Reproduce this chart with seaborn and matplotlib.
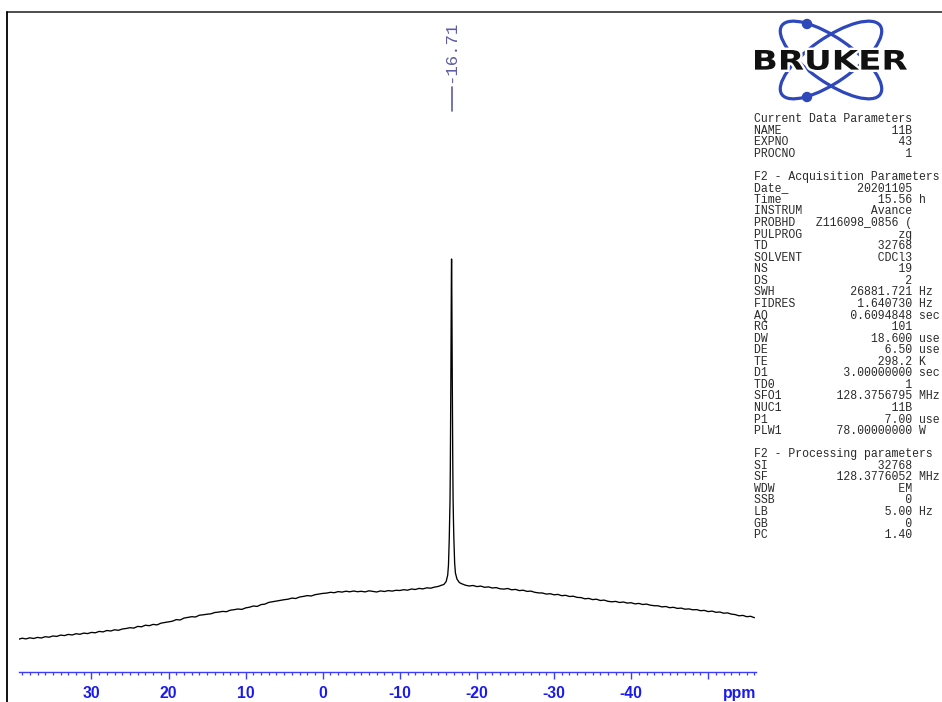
import numpy as np
import pandas as pd
import matplotlib
matplotlib.use("Agg")
import matplotlib.pyplot as plt
import seaborn as sns
from matplotlib.patches import Ellipse, Circle, PathPatch
from matplotlib.textpath import TextPath
from matplotlib.font_manager import FontProperties
from matplotlib.transforms import Affine2D
from matplotlib.lines import Line2D
from matplotlib.ticker import FixedLocator, FixedFormatter, MultipleLocator

# ---------------------------------------------------------------------------
# 11B spectrum (chemical shift in ppm, intensity in arbitrary units)
# ---------------------------------------------------------------------------
# broad background, 0.5 ppm sampling, low-field side (39.5 ... -15.0 ppm)
left_ppm = np.arange(39.5, -15.01, -0.5)
left_int = [
    32.6, 33.8, 33.1, 34.2, 33.5, 34.6, 34.0, 35.3, 34.8, 36.0,
    35.6, 36.9, 36.4, 37.6, 37.0, 38.3, 37.7, 38.9, 38.4, 39.6,
    39.2, 40.6, 40.1, 41.5, 41.0, 42.2, 41.7, 43.0, 43.5, 44.3,
    43.9, 45.6, 45.2, 46.8, 46.3, 47.6, 47.1, 48.8, 49.5, 50.2,
    50.8, 52.4, 52.0, 53.9, 54.6, 55.3, 55.0, 56.8, 57.2, 57.8,
    58.2, 59.5, 59.9, 60.6, 60.3, 61.8, 62.3, 63.0, 62.6, 64.1,
    64.8, 66.0, 65.6, 67.4, 67.9, 69.6, 70.2, 70.8, 71.6, 72.3,
    72.8, 73.9, 73.5, 75.0, 75.6, 76.4, 76.0, 77.3, 77.9, 78.6,
    78.9, 79.7, 79.3, 80.4, 79.9, 80.8, 80.2, 81.0, 80.3, 80.7,
    80.1, 81.2, 80.6, 80.0, 81.1, 80.5, 81.4, 80.9, 81.7, 81.5,
    82.3, 81.8, 83.0, 82.5, 83.6, 83.1, 84.2, 83.8, 84.9, 85.6,
]

# broad background, high-field side (-18.5 ... -56.0 ppm)
right_ppm = np.arange(-18.5, -56.01, -0.5)
right_int = [
    86.8, 86.0, 86.5, 85.4, 85.9, 84.7, 85.1, 84.0, 84.4, 83.2,
    82.9, 83.5, 82.2, 82.6, 81.4, 81.8, 80.6, 80.9, 79.7, 79.1,
    79.0, 77.9, 78.3, 77.2, 77.6, 76.3, 76.7, 75.5, 75.8, 74.6,
    74.4, 73.2, 73.6, 72.4, 72.8, 71.5, 71.9, 70.7, 70.2, 70.6,
    69.5, 70.0, 68.9, 69.3, 68.1, 68.6, 67.5, 67.9, 66.8, 66.3,
    66.2, 65.1, 65.5, 64.3, 64.7, 63.6, 63.9, 62.8, 63.1, 62.2,
    62.4, 61.3, 61.6, 60.4, 60.9, 59.7, 60.0, 58.8, 59.1, 57.9,
    57.4, 56.2, 56.6, 55.3, 55.7, 54.3,
]

# sharp resonance
peak_shift = -16.71
peak_ppm = [
    -15.41, -15.71, -16.01, -16.21, -16.31, -16.41, -16.46, -16.51,
    -16.55, -16.59, -16.62, -16.65, -16.67, -16.69,
    -16.71,
    -16.73, -16.75, -16.77, -16.80, -16.83, -16.87, -16.91, -16.96,
    -17.01, -17.11, -17.21, -17.41, -17.71, -18.01,
]
peak_int = [
    86.8, 87.5, 90.5, 97.0, 107.0, 133.0, 150.0, 172.0,
    205.0, 250.0, 295.0, 345.0, 375.0, 400.0,
    413.0,
    400.0, 375.0, 345.0, 295.0, 250.0, 205.0, 172.0, 150.0,
    133.0, 109.0, 99.0, 93.0, 89.5, 88.3,
]

# axis ticks
tick_positions = [30, 20, 10, 0, -10, -20, -30, -40, -50]
tick_labels = ["30", "20", "10", "0", "-10", "-20", "-30", "-40", ""]
ppm_left, ppm_right = 39.4, -56.2

# acquisition / processing parameter block
current_names = ["NAME", "EXPNO", "PROCNO"]
current_values = ["11B", "43", "1"]
current_units = ["", "", ""]

acq_names = ["Date_", "Time", "INSTRUM", "PROBHD", "PULPROG", "TD", "SOLVENT",
             "NS", "DS", "SWH", "FIDRES", "AQ", "RG", "DW", "DE", "TE", "D1",
             "TD0", "SFO1", "NUC1", "P1", "PLW1"]
acq_values = ["20201105", "15.56", "Avance", "Z116098_0856 (", "zg", "32768",
              "CDCl3", "19", "2", "26881.721", "1.640730", "0.6094848", "101",
              "18.600", "6.50", "298.2", "3.00000000", "1", "128.3756795",
              "11B", "7.00", "78.00000000"]
acq_units = ["", "h", "", "", "", "", "", "", "", "Hz", "Hz", "sec", "",
             "use", "use", "K", "sec", "", "MHz", "", "use", "W"]

proc_names = ["SI", "SF", "WDW", "SSB", "LB", "GB", "PC"]
proc_values = ["32768", "128.3776052", "EM", "0", "5.00", "0", "1.40"]
proc_units = ["", "MHz", "", "", "Hz", "", ""]

# ---------------------------------------------------------------------------
spectrum = pd.DataFrame({
    "ppm": np.concatenate([left_ppm, peak_ppm, right_ppm]),
    "intensity": np.concatenate([left_int, peak_int, right_int]),
})

sns.set_style("white")
plt.rcParams["font.family"] = ["Liberation Sans", "DejaVu Sans"]

W, H = 942, 702
fig = plt.figure(figsize=(W / 100, H / 100), dpi=100)
fig.patch.set_facecolor("white")

# spectrum axes: x from 19 px to 756 px, baseline axis at 672 px from top
ax = fig.add_axes([19 / W, (H - 672) / H, (756 - 19) / W, 660 / H])
sns.lineplot(data=spectrum, x="ppm", y="intensity", ax=ax, estimator=None,
             color="black", linewidth=0.95)
ax.set_xlim(ppm_left, ppm_right)
ax.set_ylim(0, 660)
ax.set_facecolor("none")
for side in ("left", "right", "top"):
    ax.spines[side].set_visible(False)
axis_blue = "#3c3cff"
ax.spines["bottom"].set_color(axis_blue)
ax.spines["bottom"].set_linewidth(1.0)
ax.set_xlabel("")
ax.set_ylabel("")
ax.set_yticks([])
ax.xaxis.set_major_locator(FixedLocator(tick_positions))
ax.xaxis.set_major_formatter(FixedFormatter(tick_labels))
ax.xaxis.set_minor_locator(MultipleLocator(1))
ax.tick_params(axis="x", which="major", direction="out", length=5, width=1.0,
               color=axis_blue, labelcolor="#1a1aee", labelsize=11.3, pad=4.8,
               bottom=True)
ax.tick_params(axis="x", which="minor", direction="out", length=2, width=0.9,
               color=axis_blue, bottom=True)
for lab in ax.get_xticklabels():
    lab.set_fontweight("bold")
ax.annotate("ppm", xy=(1, 0), xycoords="axes fraction", xytext=(0, -9.8),
            textcoords="offset points", ha="right", va="top", fontsize=11.3,
            fontweight="bold", color="#1a1aee")

# peak label
label_color = "#5c5ca8"
ax.plot([peak_shift, peak_shift], [561, 585], color=label_color, lw=1.2,
        clip_on=False)
ax.text(peak_shift + 0.15, 589, f"{peak_shift:.2f}", rotation=90, ha="center",
        va="bottom", color=label_color, fontsize=12.5,
        family=["Liberation Mono", "DejaVu Sans Mono"], clip_on=False)

# frame lines
fig.add_artist(Line2D([7 / W, 1], [1 - 12 / H, 1 - 12 / H],
                      transform=fig.transFigure, color="#404040", lw=1.3))
fig.add_artist(Line2D([7 / W, 7 / W], [0, 1 - 12 / H],
                      transform=fig.transFigure, color="black", lw=1.3))

# parameter block
rows = [("Current Data Parameters", None, None)]
rows += list(zip(current_names, current_values, current_units))
rows.append(("", None, None))
rows.append(("F2 - Acquisition Parameters", None, None))
rows += list(zip(acq_names, acq_values, acq_units))
rows.append(("", None, None))
rows.append(("F2 - Processing parameters", None, None))
rows += list(zip(proc_names, proc_values, proc_units))

y0, dy = 122.0, 11.56   # text baselines, px from the top
for i, (name, value, unit) in enumerate(rows):
    if value is None:
        line = name
    else:
        line = name.ljust(23 - len(value)) + value
        if unit:
            line += " " + unit
    fig.text(754 / W, 1 - (y0 + i * dy) / H, line, ha="left", va="baseline",
             fontsize=8.3, color="#2a2a2a",
             family=["Liberation Mono", "DejaVu Sans Mono"])

# logo
logo = fig.add_axes([752 / W, 1 - 106 / H, 160 / W, 92 / H])
logo.set_xlim(752, 912)
logo.set_ylim(106, 14)
logo.axis("off")
logo_blue = "#2e48bc"
for ang in (35, -35):
    logo.add_patch(Ellipse((831, 60), width=120, height=44, angle=ang,
                           fill=False, ec=logo_blue, lw=2.3))
for cy in (24, 97):
    logo.add_patch(Circle((807, cy), 4.5, color=logo_blue))
tp = TextPath((0, 0), "BRUKER",
              prop=FontProperties(family="DejaVu Sans", weight="bold"), size=1)
ext = tp.get_extents()
sx = 152 / ext.width
sy = 20 / ext.height
tr = Affine2D().translate(-ext.x0, -ext.y0).scale(sx, -sy).translate(755, 70)
logo.add_patch(PathPatch(tp, transform=tr + logo.transData, fc="white",
                         ec="white", lw=3.5))
logo.add_patch(PathPatch(tp, transform=tr + logo.transData, fc="#111111",
                         ec="none"))

fig.savefig("out.png", dpi=100)
